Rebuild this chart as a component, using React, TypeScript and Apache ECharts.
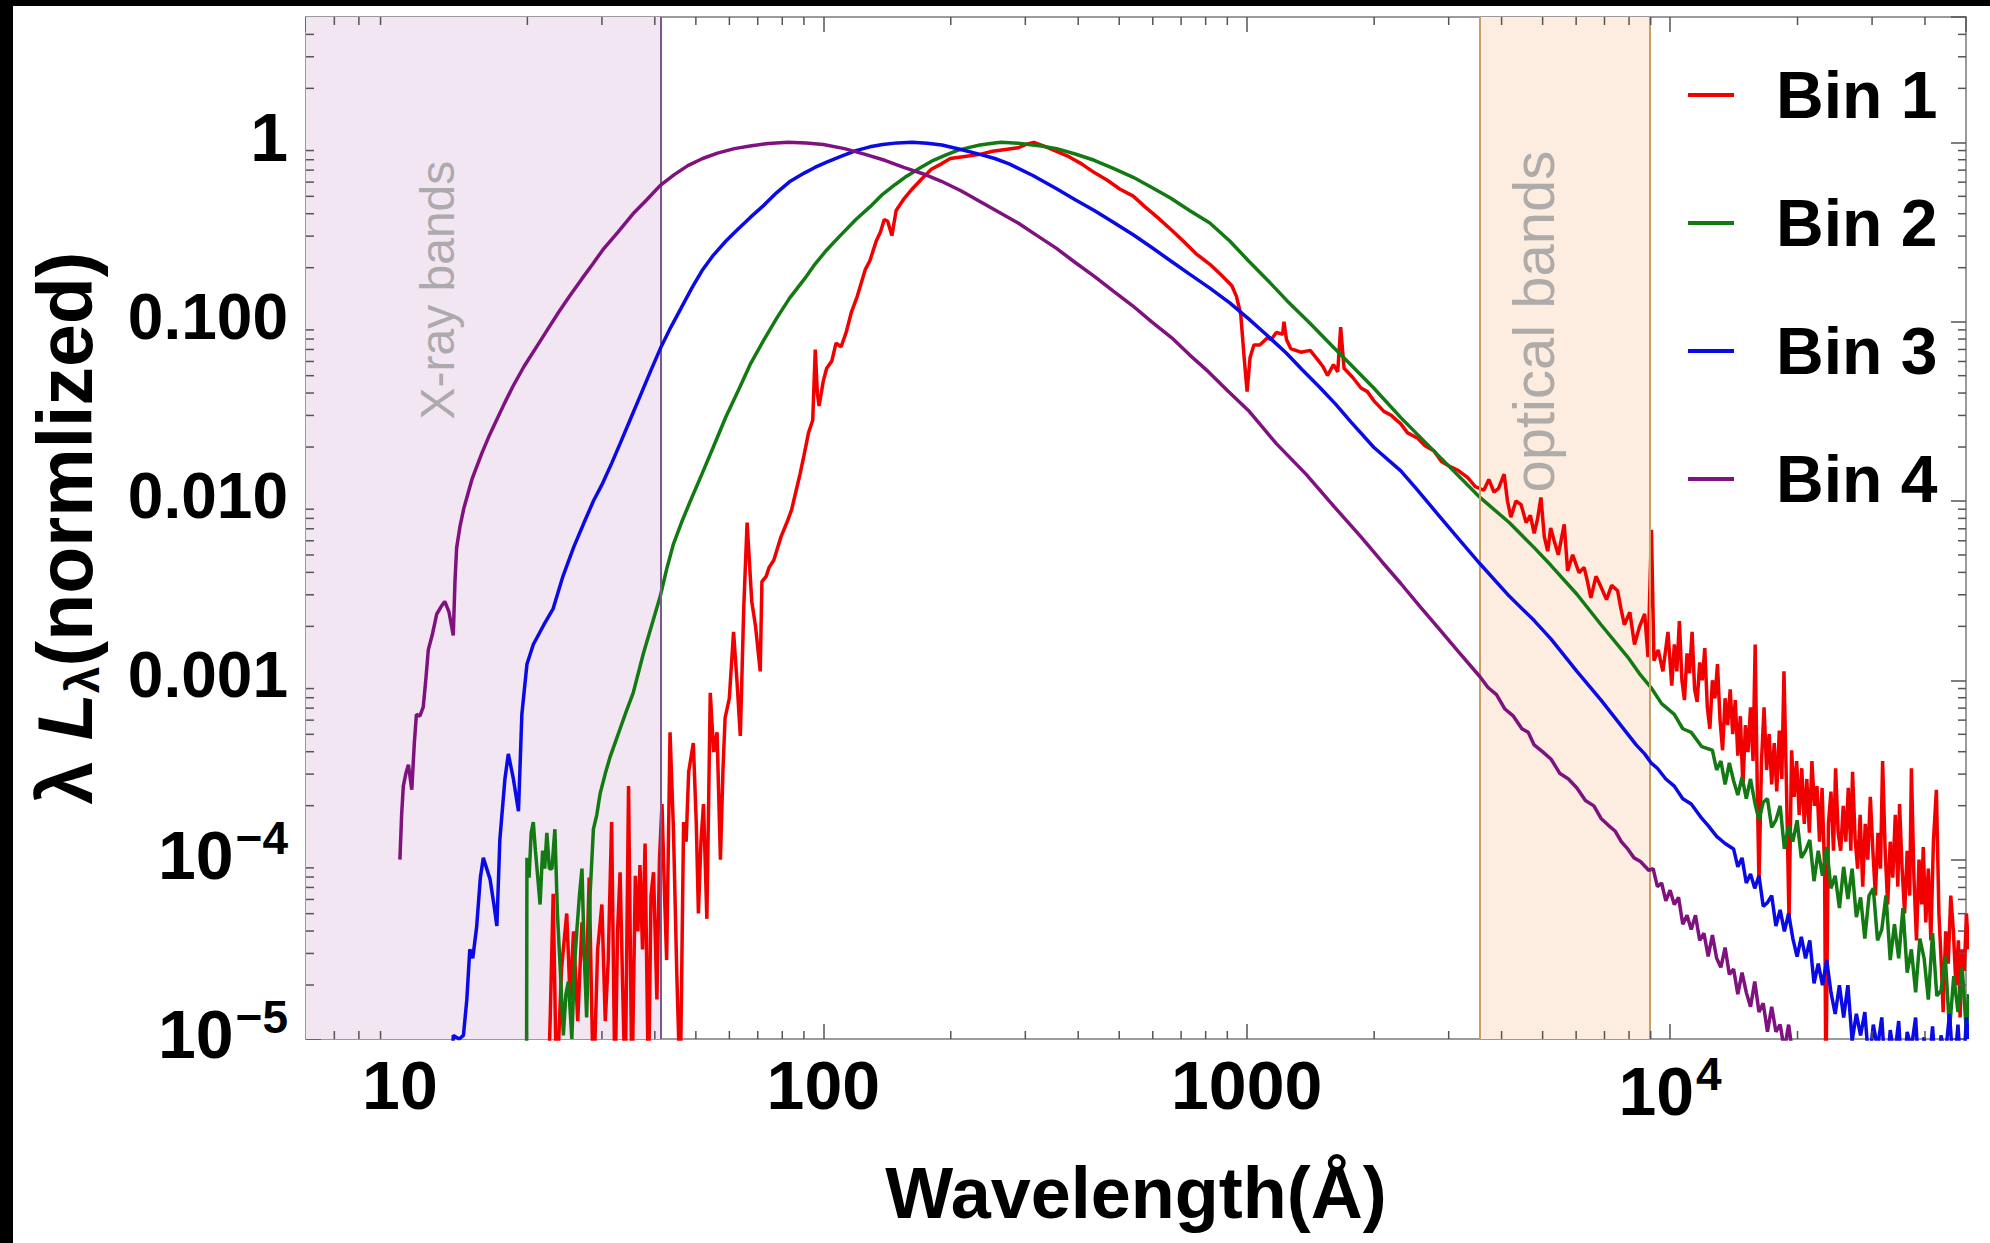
import React, { useEffect, useRef } from "react";
import * as echarts from "echarts";

const FONT = "'Liberation Sans', Arial, Helvetica, sans-serif";

// axis ranges
const X_MIN = 6;
const X_MAX = 50000;
const Y_MIN = 1e-5;
const Y_MAX = 5;

// tick labels
const xMajorTicks = [10, 100, 1000, 10000];
const xMajorLabels = ["10", "100", "1000", "10{sup|4}"];
const yMajorTicks = [1e-5, 1e-4, 1e-3, 1e-2, 1e-1, 1];
const yMajorLabels = ["10{sup|\u22125}", "10{sup|\u22124}", "{d|0.001}", "{d|0.010}", "{d|0.100}", "1"];
const xMinorTicks = [7, 8, 9, 20, 30, 40, 50, 60, 70, 80, 90, 200, 300, 400, 500, 600, 700, 800, 900,
  2000, 3000, 4000, 5000, 6000, 7000, 8000, 9000, 20000, 30000, 40000];
const yMinorTicks = [2e-5, 3e-5, 4e-5, 5e-5, 6e-5, 7e-5, 8e-5, 9e-5, 2e-4, 3e-4, 4e-4, 5e-4, 6e-4, 7e-4, 8e-4, 9e-4,
  0.002, 0.003, 0.004, 0.005, 0.006, 0.007, 0.008, 0.009, 0.02, 0.03, 0.04, 0.05, 0.06, 0.07, 0.08, 0.09,
  0.2, 0.3, 0.4, 0.5, 0.6, 0.7, 0.8, 0.9, 2, 3, 4];

// bands (Å)
const xrayBand = [X_MIN, 41.33];
const opticalBand = [3550, 8950];
const bandLabels = [
  { text: "X-ray bands", lambda: 12.3, value: 0.15, size: 48 },
  { text: "optical bands", lambda: 4770, value: 0.1, size: 58 },
];

const seriesNames = ["Bin 1", "Bin 2", "Bin 3", "Bin 4"];
const seriesColors = ["#f20000", "#137a13", "#0a0ae6", "#7f127f"];

// data: [log10(wavelength / Å), log10(λLλ normalized)]
const bin1Log: [number, number][] = [
  [1.350, -5.3], [1.355, -4.88], [1.362, -4.19], [1.370, -5.3], [1.382, -4.6], [1.394, -4.30], [1.402, -4.78],
  [1.41, -4.4], [1.42, -4.9], [1.43, -4.35], [1.44, -4.7], [1.447, -4.1], [1.457, -5.3], [1.467, -4.5],
  [1.477, -4.25], [1.485, -4.9], [1.492, -4.56], [1.50, -3.79], [1.508, -5.3], [1.514, -4.4], [1.52, -4.07],
  [1.526, -4.7], [1.532, -5.3], [1.54, -3.59], [1.548, -5.3], [1.556, -4.09], [1.562, -4.4], [1.567, -4.03],
  [1.573, -4.5], [1.579, -3.91], [1.587, -5.3], [1.593, -4.2], [1.599, -4.07], [1.607, -4.78], [1.613, -4.0],
  [1.619, -3.69], [1.625, -4.2], [1.63, -4.56], [1.638, -3.29], [1.646, -3.83], [1.654, -4.64], [1.662, -5.3],
  [1.67, -3.79], [1.676, -3.9], [1.682, -3.51], [1.693, -3.35], [1.70, -3.8], [1.705, -4.30], [1.711, -3.9],
  [1.717, -3.69], [1.725, -4.33], [1.733, -3.07], [1.741, -3.4], [1.749, -3.29], [1.757, -4.0], [1.763, -3.5],
  [1.768, -3.21], [1.778, -3.1], [1.788, -2.73], [1.796, -3.0], [1.804, -3.31], [1.812, -2.6], [1.82, -2.12],
  [1.831, -2.56], [1.84, -2.7], [1.851, -2.95], [1.855, -2.45], [1.865, -2.42], [1.872, -2.37], [1.883, -2.33],
  [1.90, -2.2], [1.914, -2.12], [1.925, -2.05], [1.936, -1.94], [1.945, -1.85], [1.954, -1.75], [1.965, -1.62],
  [1.975, -1.55], [1.981, -1.155], [1.986, -1.40], [1.99, -1.47], [2.0, -1.33], [2.008, -1.26], [2.02, -1.22],
  [2.03, -1.12], [2.042, -1.14], [2.054, -1.06], [2.066, -0.95], [2.08, -0.86], [2.099, -0.71], [2.11, -0.66],
  [2.125, -0.55], [2.135, -0.50], [2.144, -0.43], [2.152, -0.44], [2.162, -0.52], [2.172, -0.38], [2.189, -0.32],
  [2.21, -0.26], [2.234, -0.2], [2.255, -0.15], [2.279, -0.12], [2.30, -0.09], [2.33, -0.08], [2.37, -0.067],
  [2.40, -0.05], [2.43, -0.04], [2.461, -0.03], [2.48, -0.01], [2.497, 0], [2.52, -0.02], [2.551, -0.05],
  [2.58, -0.08], [2.61, -0.12], [2.641, -0.17], [2.67, -0.21], [2.70, -0.26], [2.732, -0.30], [2.76, -0.36],
  [2.79, -0.42], [2.823, -0.49], [2.85, -0.55], [2.88, -0.62], [2.913, -0.68], [2.94, -0.74], [2.965, -0.80],
  [2.976, -0.86], [2.986, -0.96], [2.994, -1.2], [3.001, -1.39], [3.008, -1.20], [3.017, -1.13], [3.031, -1.13],
  [3.049, -1.09], [3.058, -1.10], [3.07, -1.06], [3.085, -1.07], [3.088, -1.0], [3.094, -1.10], [3.104, -1.15],
  [3.128, -1.17], [3.15, -1.16], [3.167, -1.21], [3.18, -1.25], [3.191, -1.30], [3.205, -1.24], [3.215, -1.28],
  [3.222, -1.03], [3.23, -1.26], [3.25, -1.31], [3.27, -1.37], [3.285, -1.39], [3.30, -1.44], [3.324, -1.50],
  [3.34, -1.52], [3.364, -1.57], [3.38, -1.62], [3.404, -1.65], [3.42, -1.69], [3.442, -1.72], [3.46, -1.78],
  [3.482, -1.81], [3.50, -1.83], [3.522, -1.87], [3.54, -1.92], [3.56, -1.94], [3.572, -1.88], [3.584, -1.95],
  [3.595, -1.93], [3.608, -1.85], [3.616, -2.0], [3.624, -2.09], [3.636, -2.0], [3.648, -2.02], [3.66, -2.12],
  [3.67, -2.08], [3.679, -2.18], [3.687, -2.10], [3.695, -1.98], [3.703, -2.2], [3.711, -2.28], [3.718, -2.15],
  [3.726, -2.22], [3.736, -2.30], [3.75, -2.13], [3.758, -2.39], [3.77, -2.30], [3.785, -2.40], [3.797, -2.37],
  [3.805, -2.45], [3.813, -2.54], [3.825, -2.42], [3.837, -2.48], [3.85, -2.55], [3.862, -2.47], [3.876, -2.50],
  [3.884, -2.60], [3.892, -2.69], [3.905, -2.62], [3.916, -2.80], [3.928, -2.70], [3.94, -2.63], [3.948, -2.87],
  [3.956, -2.16], [3.962, -2.89], [3.972, -2.83], [3.983, -2.95], [3.995, -2.73],
  [4.004, -3.03], [4.010, -2.80], [4.016, -2.95], [4.022, -2.67], [4.028, -3.00], [4.034, -3.11], [4.040, -2.85],
  [4.046, -2.96], [4.052, -2.73], [4.058, -3.05], [4.064, -3.12], [4.070, -2.90], [4.076, -3.00], [4.082, -2.82],
  [4.088, -3.15], [4.094, -3.27], [4.100, -3.00], [4.106, -3.10], [4.112, -2.91], [4.118, -3.22], [4.124, -3.39],
  [4.130, -3.10], [4.136, -3.25], [4.142, -3.05], [4.148, -3.30], [4.154, -3.11], [4.160, -3.42], [4.166, -3.20],
  [4.172, -3.59], [4.178, -3.25], [4.184, -3.40], [4.190, -3.15], [4.196, -3.45], [4.201, -2.80], [4.206, -3.60],
  [4.210, -4.13], [4.216, -3.45], [4.222, -3.15], [4.228, -3.50], [4.234, -3.30], [4.240, -3.58], [4.246, -3.35],
  [4.252, -3.62], [4.258, -3.28], [4.264, -3.55], [4.269, -2.95], [4.275, -3.60], [4.281, -4.34], [4.287, -3.39],
  [4.293, -3.65], [4.299, -3.45], [4.305, -3.75], [4.311, -3.49], [4.317, -3.80], [4.323, -3.55], [4.329, -3.85],
  [4.335, -3.45], [4.341, -3.70], [4.347, -3.59], [4.353, -3.90], [4.359, -3.60], [4.365, -4.05], [4.368, -5.3],
  [4.374, -3.80], [4.380, -3.62], [4.386, -3.95], [4.391, -3.49], [4.397, -3.85], [4.403, -3.95], [4.409, -3.70],
  [4.415, -3.90], [4.421, -3.60], [4.427, -3.95], [4.431, -3.51], [4.437, -3.88], [4.443, -4.05], [4.449, -3.75],
  [4.455, -4.15], [4.461, -3.80], [4.467, -4.00], [4.473, -3.65], [4.479, -3.95], [4.485, -4.20], [4.491, -3.85],
  [4.497, -4.05], [4.502, -3.45], [4.508, -3.95], [4.514, -4.25], [4.520, -3.90], [4.526, -4.10], [4.532, -3.75],
  [4.538, -4.15], [4.542, -3.69], [4.548, -4.05], [4.554, -4.30], [4.560, -3.95], [4.566, -4.20], [4.570, -3.49],
  [4.576, -4.10], [4.582, -4.45], [4.588, -4.00], [4.594, -4.25], [4.598, -3.93], [4.604, -4.35], [4.610, -4.05],
  [4.616, -4.45], [4.622, -3.90], [4.629, -3.61], [4.635, -4.30], [4.641, -4.60], [4.645, -4.85], [4.651, -4.40],
  [4.657, -4.58], [4.663, -4.20], [4.669, -4.39], [4.675, -4.70], [4.681, -4.45], [4.685, -4.88], [4.690, -4.50],
  [4.695, -4.62], [4.700, -4.30], [4.705, -4.5],
];

const bin2Log: [number, number][] = [
  [1.299, -5.3], [1.300, -3.99], [1.305, -4.10], [1.31, -3.85], [1.315, -3.79], [1.320, -3.95], [1.326, -4.11],
  [1.331, -4.25], [1.337, -3.95], [1.342, -4.05], [1.347, -3.85], [1.353, -4.05], [1.359, -4.05], [1.366, -3.83],
  [1.372, -4.30], [1.378, -4.58], [1.386, -4.98], [1.392, -4.75], [1.398, -4.68], [1.406, -5.0], [1.412, -4.60],
  [1.418, -4.39], [1.424, -4.20], [1.430, -4.05], [1.435, -4.50], [1.441, -4.88], [1.449, -4.20], [1.457, -3.83],
  [1.465, -3.75], [1.473, -3.63], [1.485, -3.52], [1.496, -3.43], [1.508, -3.35], [1.52, -3.27], [1.535, -3.17],
  [1.551, -3.07], [1.575, -2.85], [1.595, -2.69], [1.615, -2.53], [1.63, -2.38], [1.646, -2.24], [1.665, -2.12],
  [1.686, -2.0], [1.715, -1.84], [1.74, -1.70], [1.77, -1.53], [1.80, -1.38], [1.827, -1.24], [1.86, -1.10],
  [1.89, -0.98], [1.92, -0.87], [1.956, -0.76], [1.98, -0.68], [2.008, -0.60], [2.04, -0.52], [2.077, -0.43],
  [2.11, -0.36], [2.14, -0.29], [2.17, -0.235], [2.196, -0.19], [2.23, -0.14], [2.26, -0.10], [2.29, -0.07],
  [2.317, -0.045], [2.345, -0.028], [2.37, -0.015], [2.40, -0.005], [2.42, 0], [2.45, -0.003], [2.48, -0.01],
  [2.515, -0.02], [2.551, -0.035], [2.595, -0.065], [2.64, -0.10], [2.685, -0.145], [2.732, -0.195],
  [2.775, -0.25], [2.82, -0.31], [2.865, -0.38], [2.913, -0.45], [2.96, -0.55], [3.004, -0.66], [3.05, -0.77],
  [3.094, -0.88], [3.15, -1.01], [3.206, -1.145], [3.246, -1.24], [3.30, -1.37], [3.364, -1.535], [3.45, -1.74],
  [3.551, -1.98], [3.62, -2.12], [3.679, -2.26], [3.719, -2.36], [3.78, -2.52], [3.837, -2.69], [3.90, -2.87],
  [3.93, -2.97], [3.955, -3.04], [3.98, -3.13], [4.01, -3.19], [4.03, -3.27], [4.05, -3.29], [4.075, -3.37],
  [4.10, -3.39], [4.11, -3.50], [4.12, -3.45], [4.13, -3.58], [4.14, -3.46], [4.15, -3.56], [4.16, -3.64],
  [4.17, -3.54], [4.18, -3.66], [4.19, -3.55], [4.20, -3.68], [4.21, -3.78], [4.22, -3.68], [4.23, -3.66],
  [4.24, -3.82], [4.25, -3.78], [4.26, -3.70], [4.27, -3.94], [4.28, -3.81], [4.29, -3.90], [4.30, -3.78],
  [4.31, -3.99], [4.32, -3.95], [4.33, -3.89], [4.34, -4.12], [4.35, -3.95], [4.36, -4.09], [4.37, -3.93],
  [4.38, -4.16], [4.39, -4.09], [4.40, -4.27], [4.41, -4.04], [4.42, -4.22], [4.43, -4.05], [4.44, -4.32],
  [4.45, -4.21], [4.46, -4.44], [4.47, -4.20], [4.48, -4.16], [4.49, -4.45], [4.50, -4.39], [4.51, -4.20],
  [4.52, -4.56], [4.53, -4.36], [4.54, -4.55], [4.55, -4.27], [4.56, -4.63], [4.57, -4.50], [4.58, -4.74],
  [4.59, -4.44], [4.60, -4.55], [4.61, -4.78], [4.62, -4.41], [4.63, -4.76], [4.64, -4.73], [4.65, -4.54],
  [4.66, -4.95], [4.67, -4.65], [4.68, -4.85], [4.69, -4.60], [4.70, -4.97], [4.705, -4.75],
];

const bin3Log: [number, number][] = [
  [1.120, -5.3], [1.126, -4.98], [1.140, -5.0], [1.150, -4.98], [1.158, -4.78], [1.165, -4.50], [1.172, -4.55],
  [1.181, -4.38], [1.190, -4.10], [1.197, -3.99], [1.205, -4.05], [1.213, -4.11], [1.222, -4.25], [1.229, -4.37],
  [1.236, -3.89], [1.248, -3.55], [1.256, -3.41], [1.262, -3.48], [1.268, -3.55], [1.28, -3.73], [1.288, -3.19],
  [1.30, -2.91], [1.315, -2.80], [1.34, -2.69], [1.362, -2.60], [1.385, -2.42], [1.41, -2.26], [1.435, -2.12],
  [1.457, -2.00], [1.479, -1.90], [1.50, -1.79], [1.52, -1.68], [1.545, -1.54], [1.57, -1.40], [1.593, -1.27],
  [1.615, -1.15], [1.64, -1.03], [1.665, -0.92], [1.69, -0.81], [1.715, -0.71], [1.74, -0.63], [1.77, -0.55],
  [1.80, -0.48], [1.827, -0.42], [1.86, -0.35], [1.89, -0.28], [1.92, -0.22], [1.956, -0.17], [1.98, -0.14],
  [2.008, -0.11], [2.04, -0.08], [2.077, -0.046], [2.11, -0.025], [2.14, -0.012], [2.175, -0.003], [2.21, 0],
  [2.245, -0.005], [2.28, -0.015], [2.325, -0.04], [2.37, -0.067], [2.405, -0.09], [2.439, -0.12], [2.495, -0.185],
  [2.551, -0.259], [2.595, -0.32], [2.64, -0.38], [2.685, -0.445], [2.732, -0.515], [2.775, -0.585], [2.82, -0.66],
  [2.865, -0.735], [2.913, -0.813], [2.96, -0.895], [3.004, -0.983], [3.05, -1.08], [3.094, -1.176], [3.13, -1.265],
  [3.17, -1.36], [3.21, -1.46], [3.246, -1.559], [3.30, -1.70], [3.364, -1.832], [3.40, -1.93], [3.45, -2.07],
  [3.50, -2.21], [3.551, -2.35], [3.62, -2.53], [3.679, -2.667], [3.719, -2.77], [3.78, -2.95], [3.837, -3.11],
  [3.90, -3.30], [3.92, -3.36], [3.94, -3.41], [3.955, -3.46], [3.97, -3.49], [3.99, -3.55], [4.01, -3.59],
  [4.03, -3.66], [4.05, -3.69], [4.075, -3.77], [4.09, -3.81], [4.11, -3.87], [4.13, -3.91],
  [4.15, -3.94], [4.16, -4.04], [4.17, -3.99], [4.18, -4.13], [4.19, -4.08], [4.20, -4.16], [4.21, -4.09],
  [4.22, -4.26], [4.23, -4.24], [4.24, -4.20], [4.25, -4.37], [4.26, -4.28], [4.27, -4.40], [4.28, -4.30],
  [4.29, -4.44], [4.30, -4.54], [4.31, -4.43], [4.32, -4.55], [4.33, -4.45], [4.34, -4.69], [4.35, -4.58],
  [4.36, -4.70], [4.37, -4.56], [4.38, -4.74], [4.39, -4.86], [4.40, -4.70], [4.41, -4.88], [4.42, -4.70],
  [4.43, -5.01], [4.44, -4.86], [4.45, -4.98], [4.46, -4.85], [4.47, -5.15], [4.48, -4.92], [4.49, -5.05],
  [4.50, -4.88], [4.51, -5.25], [4.52, -4.95], [4.53, -5.1], [4.54, -4.90], [4.55, -5.3], [4.56, -4.96],
  [4.57, -5.05], [4.58, -4.88], [4.59, -5.3], [4.60, -4.99], [4.61, -5.2], [4.62, -4.93], [4.63, -5.3],
  [4.64, -4.98], [4.65, -5.1], [4.66, -4.86], [4.67, -5.2], [4.68, -4.92], [4.69, -5.3], [4.70, -4.88],
  [4.705, -5.0],
];

const bin4Log: [number, number][] = [
  [1.000, -4.00], [1.004, -3.75], [1.008, -3.59], [1.014, -3.52], [1.020, -3.47], [1.028, -3.61], [1.034, -3.35],
  [1.039, -3.19], [1.047, -3.20], [1.055, -3.15], [1.061, -3.00], [1.067, -2.83], [1.077, -2.74], [1.087, -2.63],
  [1.097, -2.59], [1.106, -2.56], [1.116, -2.62], [1.126, -2.75], [1.130, -2.45], [1.134, -2.26], [1.142, -2.14],
  [1.151, -2.04], [1.170, -1.88], [1.194, -1.73], [1.212, -1.63], [1.230, -1.54], [1.248, -1.45], [1.267, -1.36],
  [1.293, -1.25], [1.32, -1.15], [1.347, -1.05], [1.374, -0.95], [1.40, -0.86], [1.43, -0.76], [1.455, -0.68],
  [1.479, -0.60], [1.515, -0.50], [1.55, -0.40], [1.583, -0.32], [1.615, -0.24], [1.648, -0.18], [1.68, -0.13],
  [1.715, -0.09], [1.75, -0.06], [1.79, -0.035], [1.827, -0.02], [1.87, -0.006], [1.917, 0], [1.96, -0.004],
  [2.00, -0.012], [2.05, -0.035], [2.099, -0.067], [2.145, -0.10], [2.19, -0.14], [2.235, -0.175], [2.279, -0.217],
  [2.325, -0.27], [2.37, -0.33], [2.415, -0.39], [2.461, -0.451], [2.505, -0.52], [2.55, -0.59], [2.595, -0.67],
  [2.641, -0.749], [2.685, -0.83], [2.73, -0.91], [2.775, -1.0], [2.823, -1.09], [2.865, -1.185], [2.91, -1.28],
  [2.955, -1.385], [3.004, -1.495], [3.07, -1.68], [3.14, -1.85], [3.206, -2.03], [3.27, -2.20], [3.32, -2.34],
  [3.364, -2.46], [3.41, -2.59], [3.45, -2.70], [3.50, -2.84], [3.551, -2.98], [3.57, -3.04], [3.59, -3.08],
  [3.61, -3.16], [3.63, -3.20], [3.65, -3.27], [3.665, -3.29], [3.679, -3.36], [3.70, -3.40], [3.719, -3.44],
  [3.74, -3.52], [3.76, -3.55], [3.78, -3.60], [3.80, -3.67], [3.82, -3.70], [3.837, -3.77], [3.855, -3.81],
  [3.87, -3.84], [3.885, -3.90], [3.90, -3.94], [3.915, -3.99], [3.93, -4.01], [3.95, -4.06], [3.96, -4.05],
  [3.97, -4.15], [3.98, -4.13], [3.99, -4.23], [4.00, -4.17], [4.01, -4.25], [4.02, -4.21], [4.03, -4.36],
  [4.04, -4.31], [4.05, -4.39], [4.06, -4.31], [4.07, -4.45], [4.08, -4.41], [4.09, -4.54], [4.10, -4.42],
  [4.11, -4.55], [4.12, -4.60], [4.13, -4.49], [4.14, -4.64], [4.15, -4.61], [4.16, -4.75], [4.17, -4.63],
  [4.18, -4.74], [4.19, -4.82], [4.20, -4.68], [4.21, -4.85], [4.22, -4.80], [4.23, -4.96], [4.24, -4.82],
  [4.25, -4.96], [4.26, -4.92], [4.27, -5.06], [4.28, -4.92], [4.29, -5.09], [4.30, -5.06], [4.305, -5.2],
];

const allBinsLog = [bin1Log, bin2Log, bin3Log, bin4Log];

const toLinear = (arr: [number, number][]) => arr.map(([a, b]) => [Math.pow(10, a), Math.pow(10, b)]);

const matchTick = (v: number, ticks: number[], labels: string[]) => {
  const lv = Math.log10(v);
  for (let i = 0; i < ticks.length; i++) {
    if (Math.abs(lv - Math.log10(ticks[i])) < 1e-6) return labels[i];
  }
  return "";
};

const TICK_COLOR = "#555";
const FRAME_COLOR = "#7a7a7a";

export default function App() {
  const ref = useRef<HTMLDivElement>(null);

  useEffect(() => {
    document.body.style.margin = "0";
    if (!ref.current) return;
    const chart = echarts.init(ref.current, undefined, { renderer: "svg" });

    const labelRich = {
      sup: { fontSize: 46, fontWeight: "bold", color: "#000", fontFamily: FONT, padding: [0, 0, 34, 2] },
      d: { fontSize: 64, fontWeight: "bold", color: "#000", fontFamily: FONT },
    };

    const curveSeries = allBinsLog.map((d, i) => ({
      name: seriesNames[i],
      type: "line",
      data: toLinear(d),
      showSymbol: false,
      symbol: "none",
      lineStyle: { color: seriesColors[i], width: 3.5 },
      itemStyle: { color: seriesColors[i] },
      z: 3 + i,
      clip: true,
      silent: true,
    }));

    const option: any = {
      animation: false,
      backgroundColor: "#fff",
      textStyle: { fontFamily: FONT },
      grid: { left: 306, right: 24, top: 17, bottom: 204, containLabel: false },
      xAxis: [
        {
          type: "log",
          logBase: 10,
          min: X_MIN,
          max: X_MAX,
          position: "bottom",
          axisLine: { show: true, lineStyle: { color: FRAME_COLOR, width: 1.5 } },
          axisTick: { show: true, inside: true, length: 15, lineStyle: { color: TICK_COLOR, width: 1.5 } },
          splitLine: { show: false },
          axisLabel: {
            show: true,
            margin: 12,
            fontSize: 68,
            fontWeight: "bold",
            color: "#000",
            fontFamily: FONT,
            showMinLabel: false,
            showMaxLabel: false,
            formatter: (v: number) => matchTick(v, xMajorTicks, xMajorLabels),
            rich: labelRich,
          },
          name: "Wavelength(\u00c5)",
          nameLocation: "middle",
          nameGap: 118,
          nameTextStyle: { fontSize: 72, fontWeight: "bold", color: "#000", fontFamily: FONT },
        },
        {
          type: "log",
          logBase: 10,
          min: X_MIN,
          max: X_MAX,
          position: "top",
          axisLine: { show: true, lineStyle: { color: FRAME_COLOR, width: 1.5 } },
          axisTick: { show: true, inside: true, length: 15, lineStyle: { color: TICK_COLOR, width: 1.5 } },
          axisLabel: { show: false },
          splitLine: { show: false },
        },
      ],
      yAxis: [
        {
          type: "log",
          logBase: 10,
          min: Y_MIN,
          max: Y_MAX,
          position: "left",
          axisLine: { show: true, lineStyle: { color: FRAME_COLOR, width: 1.5 } },
          axisTick: { show: true, inside: true, length: 15, lineStyle: { color: TICK_COLOR, width: 1.5 } },
          splitLine: { show: false },
          axisLabel: {
            show: true,
            margin: 18,
            fontSize: 68,
            fontWeight: "bold",
            color: "#000",
            fontFamily: FONT,
            padding: [0, 0, 10, 0],
            showMaxLabel: false,
            formatter: (v: number) => matchTick(v, yMajorTicks, yMajorLabels),
            rich: labelRich,
          },
          name: "{a|\u03bb }{i|L}{s|\u03bb}{a|(normlized)}",
          nameLocation: "middle",
          nameGap: 200,
          nameRotate: 90,
          nameTextStyle: {
            rich: {
              a: { fontSize: 77, fontWeight: "bold", color: "#000", fontFamily: FONT },
              i: { fontSize: 77, fontWeight: "bold", fontStyle: "italic", color: "#000", fontFamily: FONT },
              s: { fontSize: 48, fontWeight: "bold", color: "#000", fontFamily: FONT, padding: [34, 0, 0, 0] },
            },
          },
        },
        {
          type: "log",
          logBase: 10,
          min: Y_MIN,
          max: Y_MAX,
          position: "right",
          axisLine: { show: true, lineStyle: { color: FRAME_COLOR, width: 1.5 } },
          axisTick: { show: true, inside: true, length: 15, lineStyle: { color: TICK_COLOR, width: 1.5 } },
          axisLabel: { show: false },
          splitLine: { show: false },
        },
      ],
      legend: {
        data: seriesNames,
        orient: "vertical",
        left: 1683,
        top: 57,
        icon: "rect",
        itemWidth: 46,
        itemHeight: 4,
        itemGap: 62,
        selectedMode: false,
        formatter: (n: string) => `{t|${n}}`,
        textStyle: {
          rich: {
            t: { fontSize: 66, fontWeight: "bold", color: "#000", fontFamily: FONT, padding: [0, 0, 0, 37], lineHeight: 70 },
          },
        },
      },
      series: [
        {
          name: "bands",
          type: "line",
          data: [],
          z: 1,
          silent: true,
          markArea: {
            silent: true,
            data: [
              [{ xAxis: xrayBand[0], itemStyle: { color: "#f2e6f2" } }, { xAxis: xrayBand[1] }],
              [{ xAxis: opticalBand[0], itemStyle: { color: "#fcede0" } }, { xAxis: opticalBand[1] }],
            ],
          },
          markLine: {
            silent: true,
            symbol: ["none", "none"],
            label: { show: false },
            data: [
              { xAxis: xrayBand[1], lineStyle: { color: "#7d5590", width: 2, type: "solid" } },
              { xAxis: opticalBand[0], lineStyle: { color: "#c9a064", width: 2, type: "solid" } },
              { xAxis: opticalBand[1], lineStyle: { color: "#c9a064", width: 2, type: "solid" } },
            ],
          },
        },
        ...bandLabels.map((b) => ({
          name: b.text,
          type: "scatter",
          symbolSize: 0,
          silent: true,
          z: 2,
          data: [{ value: [b.lambda, b.value], name: b.text }],
          label: {
            show: true,
            position: "inside",
            rotate: 90,
            formatter: (p: any) => p.name,
            color: "#9a9a9a",
            fontSize: b.size,
            fontFamily: FONT,
          },
        })),
        {
          name: "xMinor",
          type: "custom",
          silent: true,
          z: 10,
          data: xMinorTicks.map((v) => [v, Y_MIN]),
          renderItem: (_p: any, api: any) => {
            const v = api.value(0);
            const b = api.coord([v, Y_MIN]);
            const t = api.coord([v, Y_MAX]);
            const style = { stroke: TICK_COLOR, lineWidth: 1.5 };
            return {
              type: "group",
              children: [
                { type: "line", shape: { x1: b[0], y1: b[1], x2: b[0], y2: b[1] - 8 }, style },
                { type: "line", shape: { x1: t[0], y1: t[1], x2: t[0], y2: t[1] + 8 }, style },
              ],
            };
          },
        },
        {
          name: "yMinor",
          type: "custom",
          silent: true,
          z: 10,
          data: yMinorTicks.map((v) => [X_MIN, v]),
          renderItem: (_p: any, api: any) => {
            const v = api.value(1);
            const l = api.coord([X_MIN, v]);
            const r = api.coord([X_MAX, v]);
            const style = { stroke: TICK_COLOR, lineWidth: 1.5 };
            return {
              type: "group",
              children: [
                { type: "line", shape: { x1: l[0], y1: l[1], x2: l[0] + 8, y2: l[1] }, style },
                { type: "line", shape: { x1: r[0], y1: r[1], x2: r[0] - 8, y2: r[1] }, style },
              ],
            };
          },
        },
        ...curveSeries,
      ],
      graphic: [
        { type: "rect", left: 0, top: 0, shape: { width: 13, height: 1243 }, style: { fill: "#000" }, z: 100 },
        { type: "rect", left: 0, top: 0, shape: { width: 1990, height: 6 }, style: { fill: "#000" }, z: 100 },
      ],
    };

    chart.setOption(option);
    return () => chart.dispose();
  }, []);

  return <div ref={ref} style={{ width: 1990, height: 1243 }} />;
}
